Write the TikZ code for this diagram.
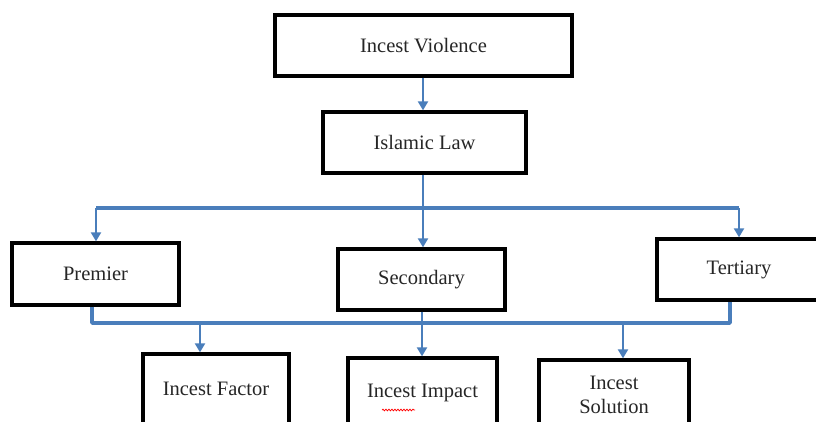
\documentclass[tikz,border=0pt]{standalone}
\usepackage{fontspec}
\setmainfont{Liberation Serif}
\usetikzlibrary{arrows.meta,decorations.pathmorphing}
\definecolor{lineblue}{RGB}{74,126,187}
\tikzset{
  box/.style={draw=black,line width=3.3pt,fill=white,inner sep=2pt,align=center,
    font=\fontsize{20.5}{24}\selectfont,text=black!85},
  bus/.style={draw=lineblue,line width=3.8pt,line join=round},
  arr/.style={draw=lineblue,line width=2pt,-{Triangle[width=10pt,length=9pt]}},
  stem/.style={draw=lineblue,line width=2pt}
}
\begin{document}
\begin{tikzpicture}[x=1pt,y=-1pt]
\useasboundingbox (0,0) rectangle (816,421);
\clip (0,0) rectangle (816,421);
\fill[white] (0,0) rectangle (816,421);
% boxes
\node[box,minimum width=297pt,minimum height=61pt] (iv) at (423.5,45.5) {Incest Violence};
\node[box,minimum width=203pt,minimum height=61pt] (il) at (424.5,142.5) {Islamic Law};
\node[box,minimum width=167pt,minimum height=62pt] (pr) at (95.5,274) {Premier};
\node[box,minimum width=167pt,minimum height=61pt] (se) at (421.5,279.5) {Secondary};
\node[box,minimum width=164pt,minimum height=61pt] (te) at (739,269.5) {Tertiary};
\node[box,minimum width=146pt,minimum height=70pt] (if) at (216,389) {Incest Factor};
\node[box,minimum width=149pt,minimum height=70pt] (im) at (422.5,393) {Incest Impact};
\node[box,minimum width=150pt,minimum height=70pt] (is) at (614,395) {Incest\\Solution};
% coordinates of buses
\coordinate (tl) at (96,208);
\coordinate (tm) at (423,208);
\coordinate (tr) at (739,208);
\coordinate (bl) at (92,323);
\coordinate (bm) at (422,323);
\coordinate (br) at (730,323);
\coordinate (b1) at (200,323);
\coordinate (b3) at (623,323);
% top level
\draw[arr] (iv.south -| tm) -- (il.north -| tm);
\draw[stem] (il.south -| tm) -- (tm);
\draw[bus] (tl) -- (tr);
\draw[arr] (tl) -- (tl |- pr.north);
\draw[arr] (tm) -- (tm |- se.north);
\draw[arr] (tr) -- (tr |- te.north);
% lower bus
\draw[bus] (pr.south -| bl) -- (bl) -- (br) -- (te.south -| br);
\draw[stem] (se.south -| bm) -- (bm);
\draw[arr] (b1) -- (b1 |- if.north);
\draw[arr] (bm) -- (bm |- im.north);
\draw[arr] (b3) -- (b3 |- is.north);
% spell-check underline
\draw[red,line width=0.7pt,decorate,decoration={snake,amplitude=0.9pt,segment length=3pt}] (382,410) -- (415,410);
\end{tikzpicture}
\end{document}
